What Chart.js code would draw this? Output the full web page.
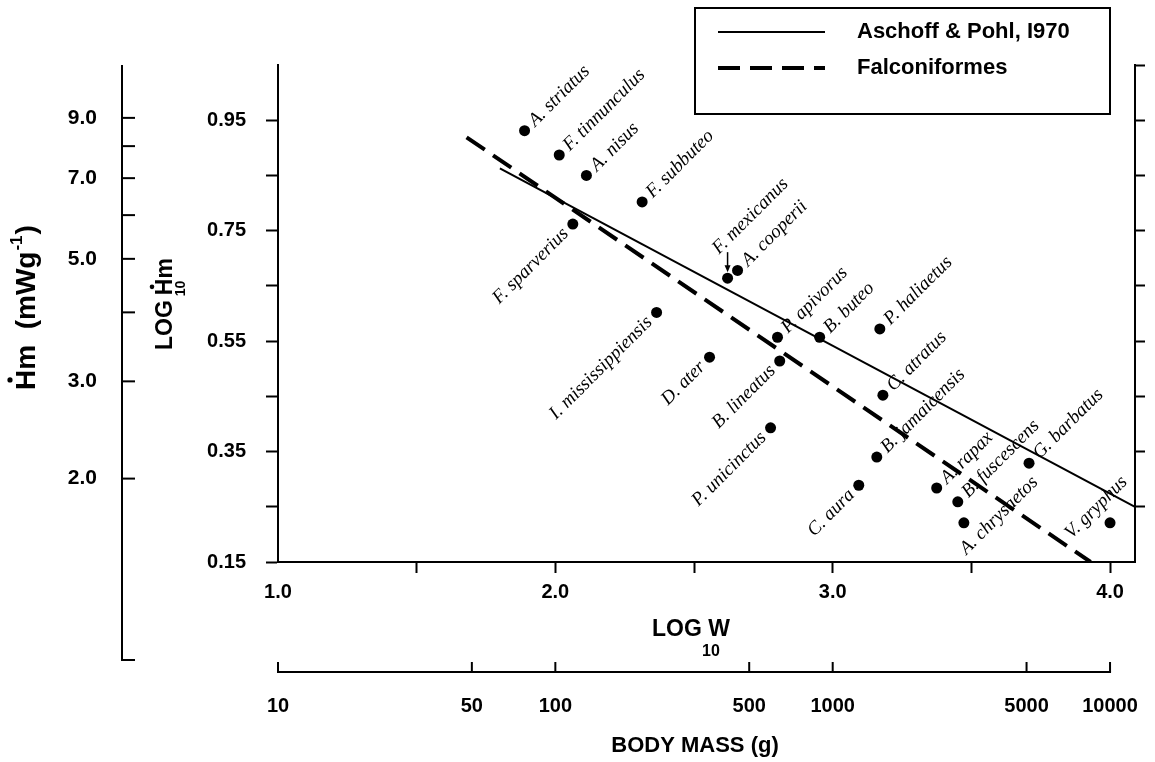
<!DOCTYPE html>
<html>
<head>
<meta charset="utf-8">
<title>Falconiformes metabolic rate</title>
<script src="https://cdn.jsdelivr.net/npm/chart.js@4.4.1/dist/chart.umd.min.js"></script>
<style>
  html, body { margin: 0; padding: 0; background: #fff; }
  #wrap { width: 1155px; height: 762px; }
</style>
</head>
<body>
<div id="wrap"><canvas id="chart" width="1155" height="762"></canvas></div>
<script>
// species: log10 body mass (g) and log10 Hm (mW/g)
const species = ['A. striatus', 'F. tinnunculus', 'A. nisus', 'F. subbuteo', 'F. sparverius',
  'F. mexicanus', 'A. cooperii', 'I. mississippiensis', 'P. apivorus', 'B. buteo',
  'P. haliaetus', 'D. ater', 'B. lineatus', 'C. atratus', 'P. unicinctus',
  'B. jamaicensis', 'C. aura', 'A. rapax', 'B. fuscescens', 'A. chrysaetos',
  'G. barbatus', 'V. gryphus'];
const logW = [1.889, 2.014, 2.112, 2.313, 2.063, 2.621, 2.657, 2.365, 2.801, 2.953,
  3.170, 2.556, 2.809, 3.181, 2.776, 3.159, 3.094, 3.375, 3.451, 3.473, 3.708, 4.000];
const logHm = [0.931, 0.887, 0.850, 0.802, 0.762, 0.664, 0.678, 0.602, 0.557, 0.557,
  0.572, 0.521, 0.514, 0.452, 0.393, 0.340, 0.289, 0.284, 0.259, 0.221, 0.329, 0.221];

// regression lines (end points)
const aschoffW = [1.80, 4.09];
const aschoffHm = [0.863, 0.250];
const falconW = [1.68, 3.93];
const falconHm = [0.919, 0.150];

// axes
const xTicks = [1.0, 1.5, 2.0, 2.5, 3.0, 3.5, 4.0];
const xLabels = [1.0, 2.0, 3.0, 4.0];
const yTicks = [0.15, 0.25, 0.35, 0.45, 0.55, 0.65, 0.75, 0.85, 0.95];
const yLabels = [0.15, 0.35, 0.55, 0.75, 0.95];
const rightTicks = [0.25, 0.35, 0.45, 0.55, 0.65, 0.75, 0.85, 0.95, 1.05];
const hmTicks = [2, 3, 4, 5, 6, 7, 8, 9];
const hmLabels = [2, 3, 5, 7, 9];
const massTicks = [10, 50, 100, 500, 1000, 5000, 10000];

// where each species name sits relative to its dot
const labelSide = ['ur', 'ur', 'ur', 'ur', 'll', 'arrow', 'ur', 'll', 'ur', 'ur',
  'ur', 'll', 'll', 'ur', 'll', 'ur', 'll', 'ur', 'ur', 'below', 'ur', 'left'];

const SANS = '"Liberation Sans", Arial, Helvetica, sans-serif';
const SERIF = '"Liberation Serif", "Times New Roman", serif';

const near = (list, v) => list.some(t => Math.abs(t - v) < 1e-6);
const pts = (xs, ys) => xs.map((x, i) => ({ x, y: ys[i] }));

function line(ctx, x0, y0, x1, y1) {
  ctx.beginPath();
  ctx.moveTo(x0, y0);
  ctx.lineTo(x1, y1);
  ctx.stroke();
}

const figureExtras = {
  id: 'figureExtras',
  afterDatasetsDraw(chart) {
    const { ctx } = chart;
    const { hm, mass } = chart.scales;
    ctx.save();
    ctx.fillStyle = '#000';
    ctx.strokeStyle = '#000';

    // species names
    const ang = -45 * Math.PI / 180;
    const ux = Math.cos(ang), uy = Math.sin(ang);
    ctx.font = 'italic 19px ' + SERIF;
    ctx.textBaseline = 'middle';
    chart.getDatasetMeta(0).data.forEach((pt, i) => {
      const side = labelSide[i];
      let ax = pt.x, ay = pt.y, align = 'left';
      if (side === 'ur') { ax += ux * 10; ay += uy * 10; }
      else if (side === 'll') { ax -= ux * 10; ay -= uy * 10; align = 'right'; }
      else if (side === 'arrow') {
        ax -= 12; ay -= 27;
        ctx.lineWidth = 1.5;
        line(ctx, pt.x, pt.y - 26, pt.x, pt.y - 9);
        ctx.beginPath();
        ctx.moveTo(pt.x, pt.y - 6);
        ctx.lineTo(pt.x - 3, pt.y - 13);
        ctx.lineTo(pt.x + 3, pt.y - 13);
        ctx.closePath();
        ctx.fill();
      }
      else if (side === 'below') { ax -= 1; ay += 29; }
      else if (side === 'left') { ax -= 42; ay += 13; }
      ctx.save();
      ctx.translate(ax, ay);
      ctx.rotate(ang);
      ctx.textAlign = align;
      ctx.fillText(species[i], 0, 0);
      ctx.restore();
    });

    // outer Hm axis (log scale)
    ctx.lineWidth = 2;
    ctx.font = 'bold 21px ' + SANS;
    ctx.textAlign = 'right';
    ctx.textBaseline = 'middle';
    const hmX = 122, hmBottom = 660;
    line(ctx, hmX, hm.getPixelForValue(hm.max), hmX, hmBottom + 1);
    line(ctx, hmX - 1, hmBottom, hmX + 13, hmBottom);
    hmTicks.forEach(v => {
      const py = hm.getPixelForValue(v);
      line(ctx, hmX, py, hmX + 13, py);
      if (near(hmLabels, v)) ctx.fillText(v.toFixed(1), 97, py);
    });

    // body mass axis (log scale)
    const massY = 672;
    const m0 = mass.getPixelForValue(massTicks[0]);
    const m1 = mass.getPixelForValue(massTicks[massTicks.length - 1]);
    line(ctx, m0 - 1, massY, m1 + 1, massY);
    ctx.font = 'bold 20px ' + SANS;
    ctx.textAlign = 'center';
    massTicks.forEach(v => {
      const px = mass.getPixelForValue(v);
      line(ctx, px, massY, px, massY - 10);
      ctx.fillText(String(v), px, 706);
    });

    // axis titles
    ctx.font = 'bold 23px ' + SANS;
    ctx.fillText('LOG W', 691, 630);
    ctx.font = 'bold 16px ' + SANS;
    ctx.fillText('10', 711, 652);
    ctx.font = 'bold 22px ' + SANS;
    ctx.fillText('BODY MASS (g)', 695, 746);

    // LOG10 Hm (rotated)
    ctx.save();
    ctx.translate(166, 350);
    ctx.rotate(-Math.PI / 2);
    ctx.textAlign = 'left';
    ctx.font = 'bold 23px ' + SANS;
    ctx.fillText('LOG', 0, 0);
    const wLog = ctx.measureText('LOG').width + 5;
    ctx.fillText('Hm', wLog, 0);
    const wH = ctx.measureText('H').width;
    ctx.beginPath();
    ctx.arc(wLog + wH / 2, -14, 2.3, 0, Math.PI * 2);
    ctx.fill();
    ctx.font = 'bold 14px ' + SANS;
    ctx.fillText('10', wLog - 1, 15);
    ctx.restore();

    // Hm (mWg-1) (rotated)
    ctx.save();
    ctx.translate(27, 390);
    ctx.rotate(-Math.PI / 2);
    ctx.textAlign = 'left';
    ctx.font = 'bold 28px ' + SANS;
    ctx.fillText('Hm  (mWg', 0, 0);
    const wH2 = ctx.measureText('H').width;
    ctx.beginPath();
    ctx.arc(wH2 / 2, -17, 2.6, 0, Math.PI * 2);
    ctx.fill();
    let off = ctx.measureText('Hm  (mWg').width;
    ctx.font = 'bold 17px ' + SANS;
    ctx.fillText('-1', off + 1, -10);
    off += ctx.measureText('-1').width + 2;
    ctx.font = 'bold 28px ' + SANS;
    ctx.fillText(')', off, 0);
    ctx.restore();

    // legend box
    ctx.lineWidth = 2;
    ctx.strokeRect(695, 8, 415, 106);
    ctx.font = 'bold 22px ' + SANS;
    ctx.textAlign = 'left';
    [1, 2].forEach((di, k) => {
      const ds = chart.data.datasets[di];
      const ly = 32 + k * 36;
      ctx.save();
      ctx.lineWidth = ds.borderWidth;
      ctx.setLineDash(ds.borderDash || []);
      line(ctx, 718, ly, 825, ly);
      ctx.restore();
      ctx.fillText(ds.label, 857, ly);
    });
    ctx.restore();
  }
};

new Chart(document.getElementById('chart'), {
  type: 'scatter',
  data: {
    datasets: [
      {
        label: 'Species',
        data: pts(logW, logHm),
        pointRadius: 5.5,
        pointBackgroundColor: '#000',
        pointBorderWidth: 0
      },
      {
        label: 'Aschoff & Pohl, I970',
        data: pts(aschoffW, aschoffHm),
        showLine: true,
        borderColor: '#000',
        borderWidth: 2,
        pointRadius: 0
      },
      {
        label: 'Falconiformes',
        data: pts(falconW, falconHm),
        showLine: true,
        borderColor: '#000',
        borderWidth: 4,
        borderDash: [22, 10],
        pointRadius: 0
      }
    ]
  },
  options: {
    responsive: false,
    animation: false,
    devicePixelRatio: 1,
    layout: { padding: { top: 65, left: 0, right: 0, bottom: 0 } },
    plugins: { legend: { display: false }, tooltip: { enabled: false } },
    scales: {
      x: {
        type: 'linear',
        min: 1.0,
        max: 4.09,
        afterBuildTicks: s => { s.ticks = xTicks.map(value => ({ value })); },
        afterFit: s => { s.height = 200; },
        border: { display: true, color: '#000', width: 2 },
        grid: {
          drawOnChartArea: false,
          tickLength: 11,
          tickWidth: 2,
          tickColor: c => (c.tick && c.tick.value === 1 ? 'rgba(0,0,0,0)' : '#000')
        },
        ticks: {
          autoSkip: false,
          maxRotation: 0,
          padding: 7,
          color: '#000',
          font: { family: SANS, weight: 'bold', size: 20 },
          callback: v => (near(xLabels, v) ? v.toFixed(1) : '')
        }
      },
      y: {
        type: 'linear',
        position: 'left',
        min: 0.15,
        max: 1.05,
        afterBuildTicks: s => { s.ticks = yTicks.map(value => ({ value })); },
        afterFit: s => { s.width = 278; },
        border: { display: true, color: '#000', width: 2 },
        grid: { drawOnChartArea: false, tickLength: 12, tickWidth: 2, tickColor: '#000' },
        ticks: {
          autoSkip: false,
          padding: 20,
          color: '#000',
          font: { family: SANS, weight: 'bold', size: 20 },
          callback: v => (near(yLabels, v) ? v.toFixed(2) : '')
        }
      },
      y2: {
        type: 'linear',
        position: 'right',
        min: 0.15,
        max: 1.05,
        afterBuildTicks: s => { s.ticks = rightTicks.map(value => ({ value })); },
        afterFit: s => { s.width = 20; },
        border: { display: true, color: '#000', width: 2 },
        grid: { drawOnChartArea: false, tickLength: 10, tickWidth: 2, tickColor: '#000' },
        ticks: { display: false }
      },
      hm: {
        type: 'logarithmic',
        axis: 'y',
        position: 'left',
        display: false,
        min: Math.pow(10, 0.15),
        max: Math.pow(10, 1.05)
      },
      mass: {
        type: 'logarithmic',
        axis: 'x',
        position: 'bottom',
        display: false,
        min: 10,
        max: Math.pow(10, 4.09)
      }
    }
  },
  plugins: [figureExtras]
});
</script>
</body>
</html>
